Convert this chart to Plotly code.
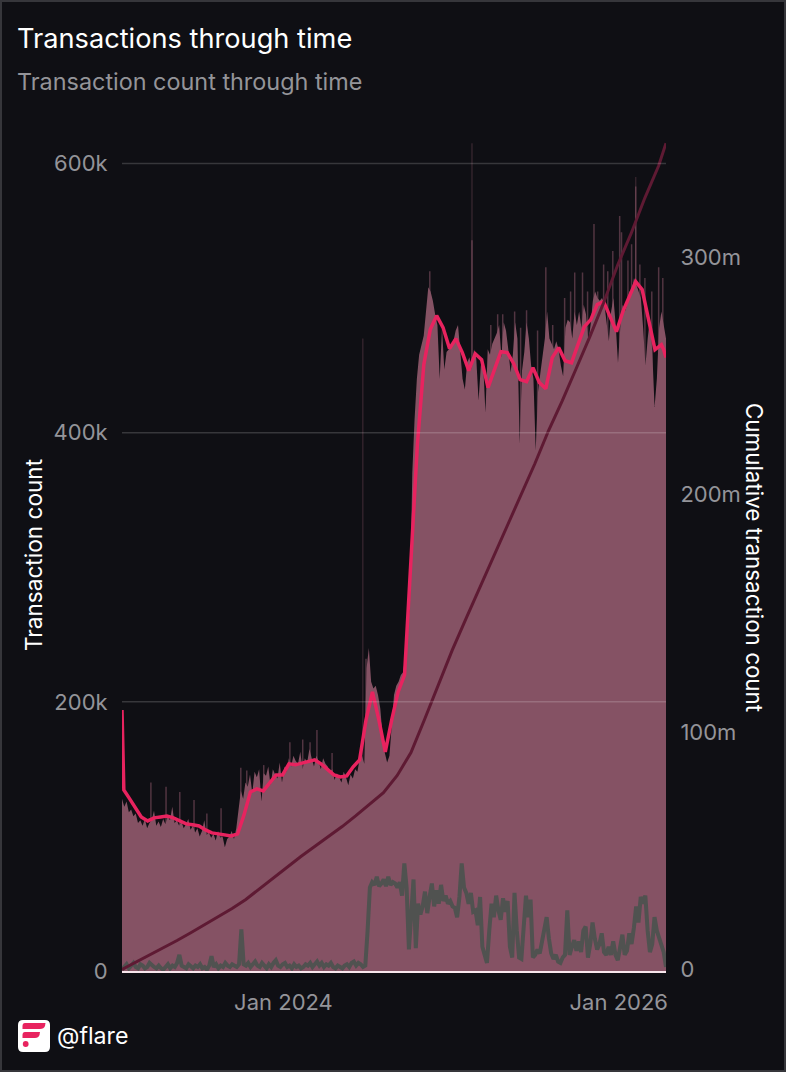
import numpy as np
import pandas as pd
import plotly.graph_objects as go

START = "2023-01-14"
END = "2026-04-14"

tx_early = [
    128, 122, 126, 118, 120, 115, 117, 110, 112, 108, 113, 106, 110, 112, 119, 108, 111,
    107, 113, 109, 115, 112, 122, 110, 112, 108, 111, 106, 109, 113, 105, 108, 103, 106,
    100, 104, 112, 101, 103, 99, 102, 97, 104, 99, 100, 92, 98, 100, 104, 98, 106,
]
tx_2024 = [
    118, 134, 128, 140, 137, 146, 132, 148, 144, 150, 126, 147, 145, 152, 138, 150, 146,
    143, 155, 140, 152, 148, 158, 152, 160, 156, 154, 163, 150, 158, 155, 165, 158, 152,
    160, 156, 150, 158, 154, 152, 148, 150, 142, 147, 144, 140, 148, 144, 138, 146, 143,
    150, 148, 158, 160, 154,
]
tx_step = [
    225, 240, 215, 210, 212, 205, 195, 175, 162, 155, 160, 180, 205, 212, 215, 220, 222, 235,
]
tx_late = [
    250, 276, 370, 410, 440, 458, 464, 472, 490, 508, 505, 498, 488, 480, 440, 478, 447,
    460, 462, 466, 468, 476, 480, 462, 440, 432, 452, 456, 447, 462, 455, 424, 450, 452,
    415, 462, 458, 466, 470, 474, 480, 456, 482, 476, 462, 445, 458, 482, 470, 392, 446,
    460, 482, 470, 450, 440, 387, 430, 444, 456, 470, 490, 470, 466, 462, 468, 462, 450,
    442, 478, 484, 482, 470, 490, 480, 490, 478, 495, 488, 468, 480, 498, 505, 500, 498,
    500, 496, 482, 468, 490, 500, 480, 452, 478, 495, 490, 495, 505, 505, 515, 510, 505,
    500, 478, 450, 470, 485, 460, 419, 440, 478, 490, 480, 470,
]
tx_count = tx_early + tx_2024 + tx_step + tx_late

spike_dates = [
    "2023-03-18", "2023-04-20", "2023-05-20", "2023-06-20", "2023-07-18", "2023-08-18",
    "2023-09-30", "2023-10-13", "2023-11-19", "2024-01-15", "2024-02-12", "2024-02-28",
    "2024-03-14", "2024-04-16", "2024-06-29", "2024-11-15", "2025-02-15", "2025-03-28",
    "2025-04-12", "2025-04-23", "2025-05-19", "2025-06-01", "2025-06-14", "2025-07-08",
    "2025-07-26", "2025-08-10", "2025-09-05", "2025-09-18", "2025-09-27", "2025-10-14",
    "2025-10-25", "2025-11-08", "2025-11-16", "2025-11-29", "2025-12-08", "2025-12-19",
    "2026-01-03", "2026-01-07", "2026-01-21", "2026-01-29", "2026-02-07", "2026-02-16",
    "2026-02-27", "2026-03-14", "2026-03-29", "2026-04-07",
]
spike_tops = [
    140, 137, 133, 127, 117, 121, 151, 149, 153, 170, 172, 170,
    179, 162, 232, 520, 543, 480,
    488, 488, 490, 478, 491, 476,
    523, 480, 500, 505, 519, 519,
    505, 555, 505, 525, 520, 535,
    561, 549, 528, 540, 583, 525,
    515, 505, 523, 515,
]
faint_dates = ["2024-06-22", "2025-02-15", "2026-02-07"]
faint_tops = [470, 615, 590]

# thin dark streaks that cut into the area
dip_dates = ["2025-06-30"]
dip_bottoms = [261]
dip_tops = [390]

ma_values = [
    194, 134.6, 129.4, 121.9, 114.5, 111.5, 113.8, 114.5, 115.2, 113.8, 111.5, 109.3, 108.6,
    107.8, 104.8, 102.6, 101.9, 101.1, 100.4, 101.9, 116, 133.1, 135.3, 133.8, 139.8, 145.7,
    145.7, 153.9, 153.2, 154.6, 156.1, 156.9, 153.9, 150.2, 145.7, 144.2, 145, 151.7, 156.9,
    186.6, 207.4, 186.6, 162.8, 186.6, 207.4, 220, 309.3, 391.1, 450.6, 476.6, 487, 478.1,
    462.5, 469.9, 459.5, 446.1, 458.7, 454.3, 433.5, 446.8, 460.2, 459.5, 451.3, 439.4, 437.9,
    448.3, 437.2, 432.7, 455.8, 463.2, 453.5, 452, 465.4, 478.8, 484, 495.2, 497.4, 485.5,
    475.1, 490, 501.1, 512.3, 506.3, 484, 461.7, 465.4, 461.7, 455.8,
]

cumulative = [
    0, 3.0, 5.9, 9.0, 12.2, 15.5, 18.9, 22.3, 25.7, 29.5, 34.1, 38.7, 43.4, 47.6, 51.8, 56,
    60.2, 64.8, 69.5, 74.5, 81.7, 91.4, 105.5, 120, 134.5, 147.8, 160.8, 173.9, 186.9, 200,
    213, 227, 239.6, 253, 266.5, 280.8, 296.4, 310, 325, 338.5,
]
cumulative_last = 348

other_early = [
    1, 3, 5, 2, 4, 6, 3, 2, 5, 4, 2, 3, 6, 4, 3, 2, 4, 2, 1, 3, 5, 2, 4, 3, 6, 12, 4, 3, 2, 5,
    3, 2, 4, 3, 5, 2, 3, 1, 4, 11, 3, 5, 2, 4, 3, 6, 4, 3, 5, 4, 3, 5, 31, 5, 4, 6, 3, 5, 7, 4,
    3, 6, 4, 2, 5, 3, 6, 8, 4, 3, 5, 6, 3, 4, 2, 5, 3, 4, 2, 3, 5, 4, 6, 3, 5, 7, 4, 6, 3, 5,
    4, 6, 3, 2, 4, 3, 2, 4, 5, 3, 6, 7, 4, 6, 5, 3,
]
other_late = [
    4, 30, 62, 66, 64, 70, 63, 65, 68, 63, 70, 64, 66, 65, 62, 66, 56, 80, 62, 16, 45, 68, 17,
    50, 42, 48, 59, 43, 55, 65, 48, 60, 50, 64, 52, 56, 50, 52, 48, 47, 40, 55, 80, 62, 58, 50,
    58, 44, 45, 34, 55, 18, 12, 6, 30, 50, 40, 56, 45, 38, 54, 44, 52, 18, 10, 58, 30, 10, 9,
    30, 56, 40, 53, 10, 12, 16, 13, 22, 30, 40, 24, 13, 9, 12, 7, 6, 10, 12, 45, 12, 18, 23,
    15, 22, 14, 30, 33, 10, 20, 36, 24, 16, 20, 28, 14, 12, 18, 12, 22, 12, 8, 18, 27, 12, 15,
    28, 20, 32, 48, 36, 55, 50, 56, 30, 14, 20, 40, 30, 24, 20, 14, 3,
]
other_count = other_early + other_late

left_ticks = [0, 200, 400, 600]
left_labels = ["0", "200k", "400k", "600k"]
right_ticks = [0, 100, 200, 300]
right_labels = ["0", "100m", "200m", "300m"]
year_ticks = ["2024-01-01", "2026-01-01"]
year_labels = ["Jan 2024", "Jan 2026"]

BG = "#0f0f14"
GREY_TEXT = "#949499"
FONT = "Inter"


def px_x(v):
    return (v - 122) / 544


def px_y(v):
    return (971 - v) / 829


k = 1000
daily_dates = pd.date_range(START, END, periods=len(tx_count))
other_dates = pd.date_range(START, END, periods=len(other_count))
ma_dates = (
    [pd.Timestamp("2023-01-14"), pd.Timestamp("2023-01-18")]
    + list(pd.date_range("2023-01-28", periods=len(ma_values) - 4, freq="14D"))
    + [pd.Timestamp("2026-04-09"), pd.Timestamp(END)]
)
cumulative_dates = list(pd.date_range(START, periods=len(cumulative), freq="30D")) + [pd.Timestamp(END)]

fig = go.Figure()

# faint spikes sit behind the solid area
fig.add_trace(go.Bar(x=faint_dates, y=np.array(faint_tops) * k, width=2.6e8,
                     marker=dict(color="rgba(150,92,112,0.28)", line_width=0)))
fig.add_trace(go.Bar(x=spike_dates, y=np.array(spike_tops) * k, width=2.8e8,
                     marker=dict(color="rgba(150,92,112,0.5)", line_width=0)))
fig.add_trace(go.Scatter(x=daily_dates, y=np.array(tx_count) * k, mode="lines", fill="tozeroy",
                         line=dict(width=0), fillcolor="#855264"))
fig.add_trace(go.Bar(x=dip_dates, base=np.array(dip_bottoms) * k,
                     y=(np.array(dip_tops) - np.array(dip_bottoms)) * k, width=2.4e8,
                     marker=dict(color="rgba(16,16,22,0.3)", line_width=0)))
fig.add_trace(go.Scatter(x=cumulative_dates, y=np.array(cumulative + [cumulative_last]) * 1e6,
                         mode="lines", yaxis="y2", line=dict(color="#5e1a33", width=3)))
fig.add_trace(go.Scatter(x=other_dates, y=np.array(other_count) * k, mode="lines",
                         line=dict(color="#505250", width=4)))
fig.add_trace(go.Scatter(x=ma_dates, y=np.array(ma_values) * k, mode="lines", cliponaxis=False,
                         line=dict(color="#e8235f", width=3.5)))

shapes = []
# grid has to show through the fill, so it goes on top as shapes
for t in left_ticks[1:]:
    shapes.append(dict(type="line", xref="paper", x0=0, x1=1, yref="y", y0=t * k, y1=t * k,
                       line=dict(color="rgba(255,255,255,0.17)", width=1.5), layer="above"))
shapes.append(dict(type="rect", xref="paper", yref="paper", x0=px_x(0), x1=px_x(786),
                   y0=px_y(0), y1=px_y(1072), line=dict(color="#36363b", width=4), layer="below"))
# logo
shapes.append(dict(type="path", xref="paper", yref="paper", fillcolor="#ffffff", line_width=0,
                   path=f"M {px_x(23)} {px_y(1020)} L {px_x(45)} {px_y(1020)} "
                        f"Q {px_x(50)} {px_y(1020)} {px_x(50)} {px_y(1025)} L {px_x(50)} {px_y(1047)} "
                        f"Q {px_x(50)} {px_y(1052)} {px_x(45)} {px_y(1052)} L {px_x(23)} {px_y(1052)} "
                        f"Q {px_x(18)} {px_y(1052)} {px_x(18)} {px_y(1047)} L {px_x(18)} {px_y(1025)} "
                        f"Q {px_x(18)} {px_y(1020)} {px_x(23)} {px_y(1020)} Z"))
shapes.append(dict(type="path", xref="paper", yref="paper", fillcolor="#e8235f", line_width=0,
                   path=f"M {px_x(25)} {px_y(1023)} L {px_x(45.5)} {px_y(1023)} L {px_x(45)} {px_y(1026)} "
                        f"Q {px_x(44)} {px_y(1029)} {px_x(40)} {px_y(1029)} L {px_x(22.5)} {px_y(1029)} "
                        f"L {px_x(22.5)} {px_y(1026)} Q {px_x(22.5)} {px_y(1023)} {px_x(25)} {px_y(1023)} Z"))
shapes.append(dict(type="path", xref="paper", yref="paper", fillcolor="#e8235f", line_width=0,
                   path=f"M {px_x(25)} {px_y(1032)} L {px_x(40)} {px_y(1032)} L {px_x(39.5)} {px_y(1035)} "
                        f"Q {px_x(38.5)} {px_y(1038)} {px_x(35)} {px_y(1038)} L {px_x(22.5)} {px_y(1038)} "
                        f"L {px_x(22.5)} {px_y(1035)} Q {px_x(22.5)} {px_y(1032)} {px_x(25)} {px_y(1032)} Z"))
shapes.append(dict(type="circle", xref="paper", yref="paper", fillcolor="#e8235f", line_width=0,
                   x0=px_x(22.8), x1=px_x(28.6), y0=px_y(1041), y1=px_y(1047)))

annotations = [
    dict(text="Transactions through time", x=px_x(15), y=px_y(39), xanchor="left",
         font=dict(color="#ffffff", size=27.2)),
    dict(text="Transaction count through time", x=px_x(15), y=px_y(82), xanchor="left",
         font=dict(color=GREY_TEXT, size=23.4)),
    dict(text="@flare", x=px_x(55), y=px_y(1036), xanchor="left", font=dict(color="#ffffff", size=23.2)),
    dict(text="Transaction count", x=px_x(33), y=px_y(555), xanchor="center", textangle=-90,
         font=dict(color="#ffffff", size=22.6)),
    dict(text="Cumulative transaction count", x=px_x(755), y=px_y(557), xanchor="center", textangle=90,
         font=dict(color="#ffffff", size=22.4)),
]
for a in annotations:
    a.update(xref="paper", yref="paper", yanchor="middle", showarrow=False)

fig.update_layout(
    width=786,
    height=1072,
    autosize=False,
    margin=dict(l=122, r=120, t=142, b=101, pad=0),
    paper_bgcolor=BG,
    plot_bgcolor=BG,
    showlegend=False,
    barmode="overlay",
    font=dict(family=FONT, color=GREY_TEXT, size=22),
    shapes=shapes,
    annotations=annotations,
    xaxis=dict(
        type="date",
        range=[START, END],
        tickvals=year_ticks,
        ticktext=year_labels,
        showgrid=False,
        zeroline=False,
        showline=True,
        linecolor="#f7e6ec",
        linewidth=2,
        ticks="outside",
        ticklen=11,
        tickcolor="rgba(0,0,0,0)",
        tickfont=dict(size=22, color=GREY_TEXT),
    ),
    yaxis=dict(
        range=[0, 616000],
        tickvals=np.array(left_ticks) * k,
        ticktext=left_labels,
        showgrid=False,
        zeroline=False,
        ticks="outside",
        ticklen=9,
        tickcolor="rgba(0,0,0,0)",
        tickfont=dict(size=22, color=GREY_TEXT),
    ),
    yaxis2=dict(
        overlaying="y",
        side="right",
        range=[-0.63e6, 348.5e6],
        tickvals=np.array(right_ticks) * 1e6,
        ticktext=right_labels,
        showgrid=False,
        zeroline=False,
        ticks="outside",
        ticklen=9,
        tickcolor="rgba(0,0,0,0)",
        tickfont=dict(size=22, color=GREY_TEXT),
    ),
)

fig.write_html("out.html", config={"displayModeBar": False},
               post_script="document.body.style.margin='0';document.body.style.overflow='hidden';")
